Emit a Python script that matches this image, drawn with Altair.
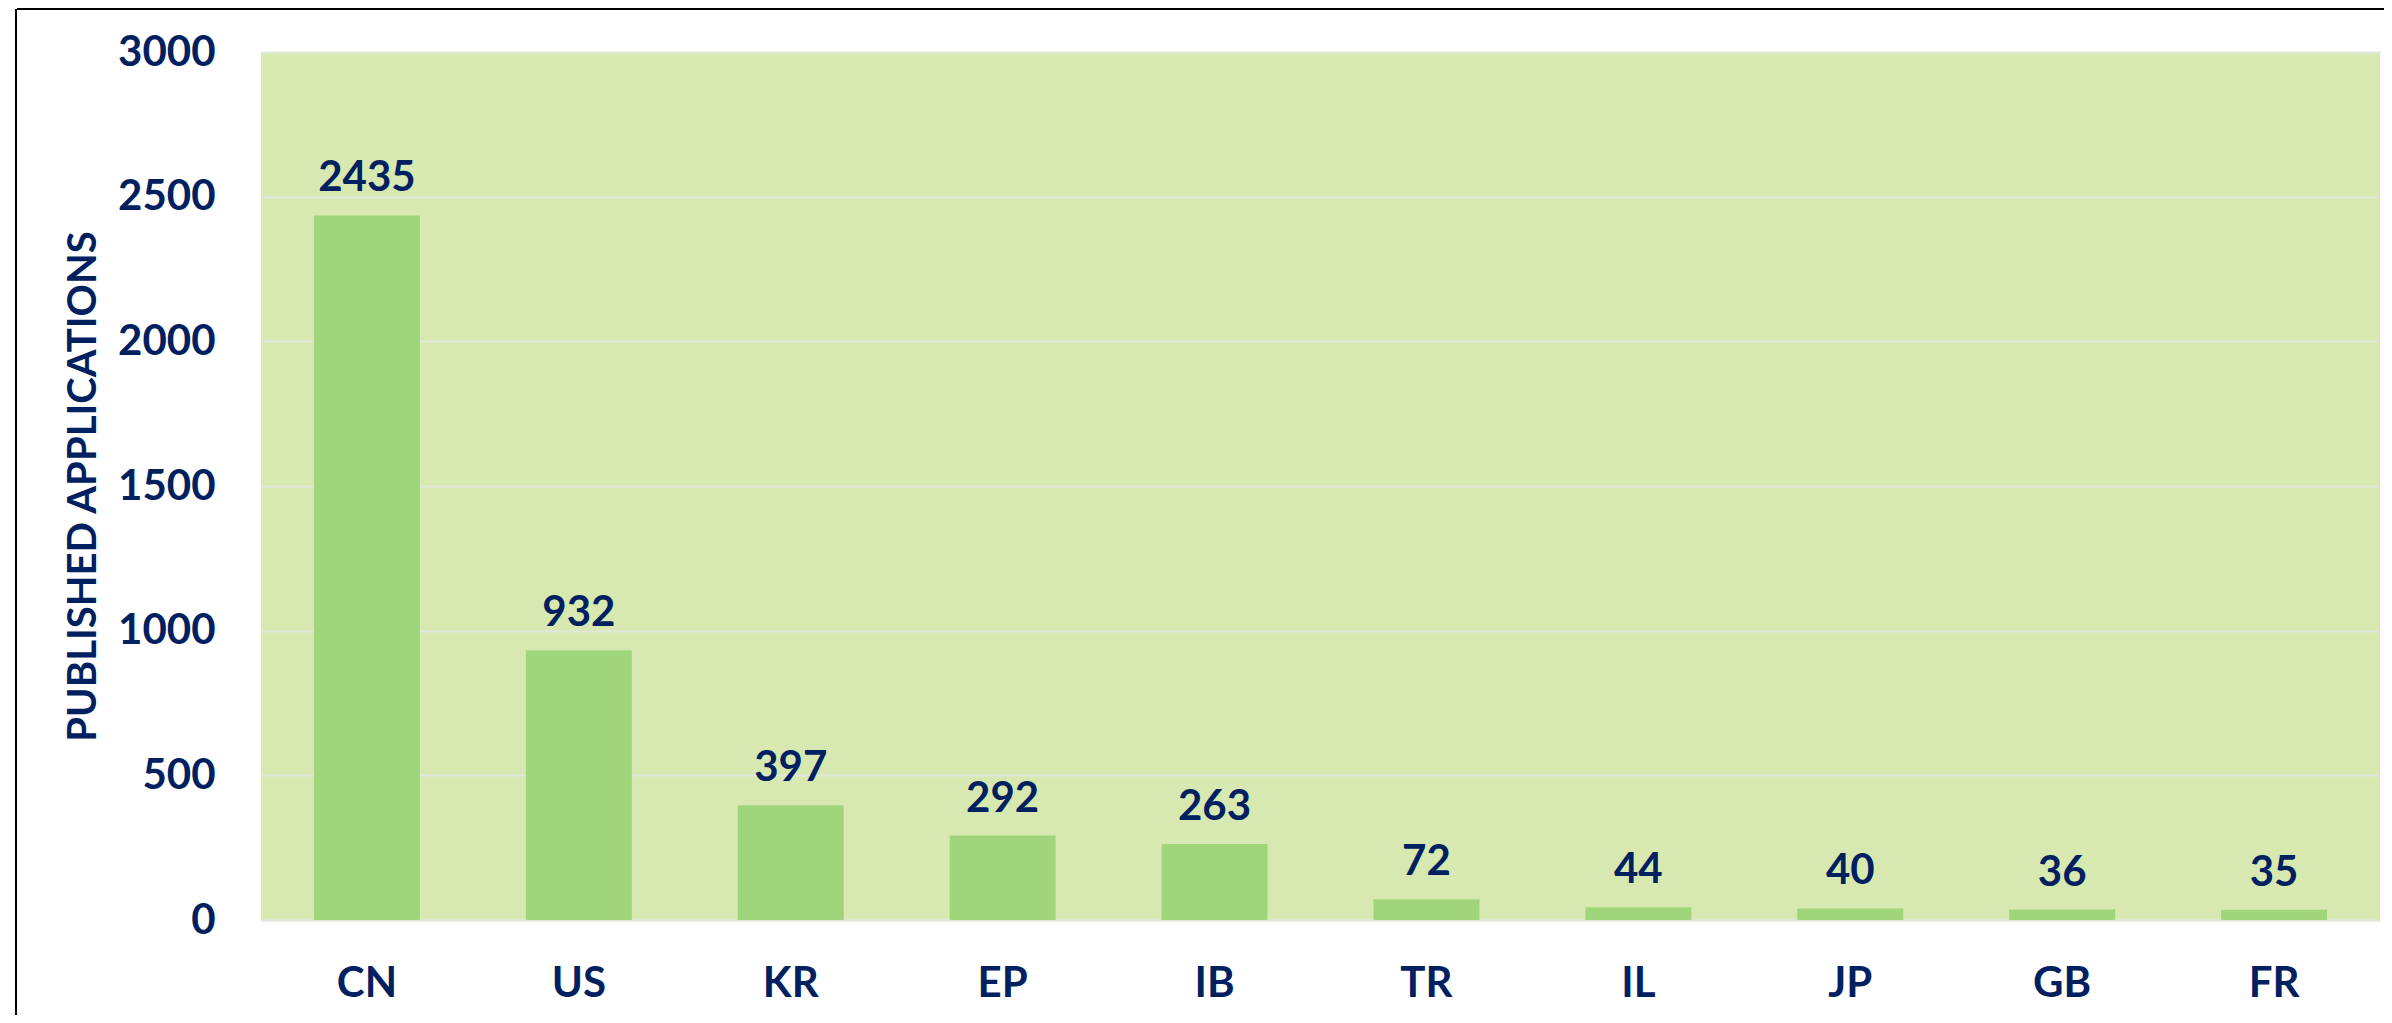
import altair as alt
import pandas as pd

countries = ["CN", "US", "KR", "EP", "IB", "TR", "IL", "JP", "GB", "FR"]
applications = [2435, 932, 397, 292, 263, 72, 44, 40, 36, 35]

df = pd.DataFrame({"country": countries, "apps": applications})

NAVY = "#002060"
FONT = "Lato"
W, H = 2119, 868

x = alt.X(
    "country:N",
    sort=countries,
    scale=alt.Scale(paddingInner=0.5, paddingOuter=0.25),
    axis=alt.Axis(
        title=None, labelAngle=0, ticks=False, domain=True, domainColor="#e2e6dc",
        domainWidth=2, labelPadding=43, labelFont=FONT, labelFontSize=42,
        labelFontWeight="bold", labelColor=NAVY,
    ),
)
y = alt.Y(
    "apps:Q",
    scale=alt.Scale(domain=[0, 3000], nice=False),
    axis=alt.Axis(
        title="PUBLISHED APPLICATIONS", values=[0, 500, 1000, 1500, 2000, 2500, 3000],
        format="d",
        ticks=False, domain=False, grid=True, gridColor="#e2e6dc", gridWidth=2,
        labelPadding=46, labelFont=FONT, labelFontSize=42, labelFontWeight="bold",
        labelColor=NAVY, titleFont=FONT, titleFontSize=40, titleFontWeight="bold",
        titleColor=NAVY, titleX=-178, titleY=H / 2, titleAngle=270,
        titleAlign="center", titleBaseline="middle",
    ),
)

bars = alt.Chart(df).mark_bar(color="#a1d57c").encode(x=x, y=y)
labels = alt.Chart(df).mark_text(
    font=FONT, fontSize=42, fontWeight="bold", color=NAVY,
    baseline="alphabetic", dy=-24,
).encode(x=alt.X("country:N", sort=countries), y="apps:Q", text="apps:Q")

frame_top = alt.Chart(df).mark_rule(color="black", strokeWidth=2, clip=False).encode(
    x=alt.value(-244), x2=alt.value(W + 40), y=alt.value(-43)
)
frame_left = alt.Chart(df).mark_rule(color="black", strokeWidth=2, clip=False).encode(
    x=alt.value(-245), y=alt.value(-43), y2=alt.value(H + 200)
)

chart = (
    alt.layer(bars, labels, frame_top, frame_left)
    .properties(
        width=W, height=H,
        autosize=alt.AutoSizeParams(type="none"),
        padding={"left": 253, "top": 44, "right": 4, "bottom": 95},
        background="white",
    )
    .configure_view(fill="#d7e9b0", stroke=None)
)

chart.save("out.html", embed_options={"renderer": "svg", "actions": False})
